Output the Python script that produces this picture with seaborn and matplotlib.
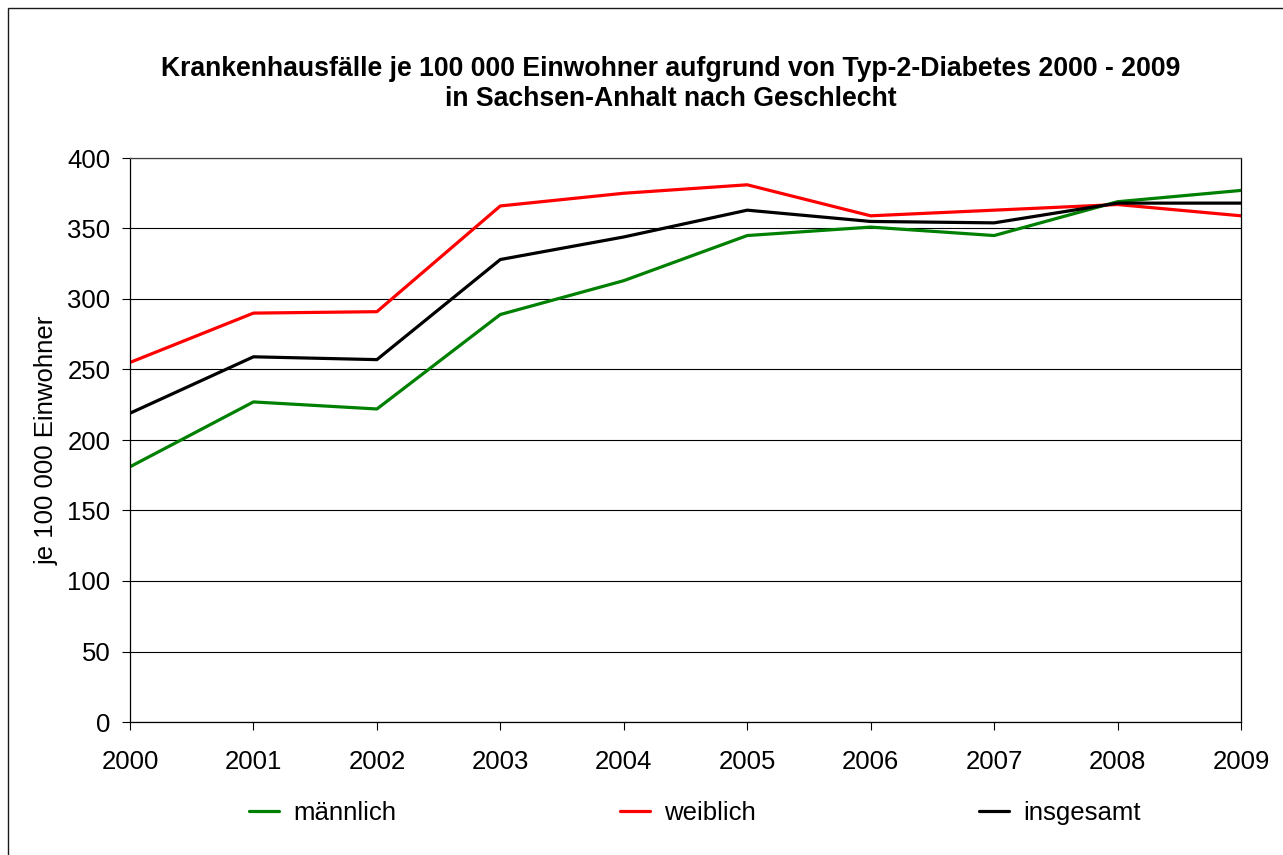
import matplotlib
matplotlib.use("Agg")
import matplotlib.pyplot as plt
import seaborn as sns
import pandas as pd

# Krankenhausfälle je 100 000 Einwohner (Typ-2-Diabetes), Sachsen-Anhalt
years = [2000, 2001, 2002, 2003, 2004, 2005, 2006, 2007, 2008, 2009]
maennlich = [181, 227, 222, 289, 313, 345, 351, 345, 369, 377]
weiblich = [255, 290, 291, 366, 375, 381, 359, 363, 367, 359]
insgesamt = [219, 259, 257, 328, 344, 363, 355, 354, 368, 368]

series_names = ["männlich", "weiblich", "insgesamt"]
series_colors = ["#008000", "#ff0000", "#000000"]

df = pd.DataFrame({"Jahr": years,
                   "männlich": maennlich,
                   "weiblich": weiblich,
                   "insgesamt": insgesamt})
long = df.melt(id_vars="Jahr", var_name="Gruppe", value_name="Wert")

sns.set_theme(style="white")
plt.rcParams["font.family"] = ["Liberation Sans", "DejaVu Sans"]
plt.rcParams["text.color"] = "#000000"

fig = plt.figure(figsize=(12.83, 8.55), dpi=100)
ax = fig.add_axes([130 / 1283, 1 - 722 / 855, (1241 - 130) / 1283, (722 - 158) / 855])

sns.lineplot(data=long, x="Jahr", y="Wert", hue="Gruppe",
             hue_order=series_names, palette=series_colors,
             linewidth=2.3, ax=ax, legend=False)

ax.set_xlim(years[0], years[-1])
ax.set_ylim(0, 400)
ax.set_xticks(years)
ax.set_xticklabels([str(y) for y in years])
ax.set_yticks(range(0, 401, 50))
ax.yaxis.grid(True, color="#000000", linewidth=0.8)
ax.xaxis.grid(False)
ax.set_axisbelow(True)

for side in ["left", "right", "top", "bottom"]:
    ax.spines[side].set_visible(True)
    ax.spines[side].set_color("#000000")
    ax.spines[side].set_linewidth(0.9)
ax.spines["top"].set_color("#404040")

ax.tick_params(axis="both", which="major", labelsize=18.5, colors="#000000",
               length=6, width=0.8, direction="out", bottom=True, left=True)
ax.tick_params(axis="x", pad=14)
ax.tick_params(axis="y", pad=8)

ax.set_xlabel("")
ax.set_ylabel("je 100 000 Einwohner", fontsize=18.5, color="#000000", labelpad=6)

fig.text(671 / 1283, 1 - 83.5 / 855,
         "Krankenhausfälle je 100 000 Einwohner aufgrund von Typ-2-Diabetes 2000 - 2009\n"
         "in Sachsen-Anhalt nach Geschlecht",
         ha="center", va="center", fontsize=19.2, fontweight="bold",
         color="#000000", linespacing=1.2)

handles = [plt.Line2D([0], [0], color=c, linewidth=2.3) for c in series_colors]
fig.legend(handles, series_names, loc="center", ncol=3,
           bbox_to_anchor=(695 / 1283, 1 - 813 / 855), frameon=False,
           fontsize=18.5, handlelength=1.17, handletextpad=0.55,
           columnspacing=8.7, labelcolor="#000000")

# outer chart frame
frame = plt.Rectangle((8 / 1283, -0.01), 1.02, 1 - 8 / 855 + 0.01,
                      transform=fig.transFigure, fill=False,
                      edgecolor="#1a1a1a", linewidth=1.0)
fig.add_artist(frame)

fig.savefig("out.png", dpi=100, facecolor="white")
